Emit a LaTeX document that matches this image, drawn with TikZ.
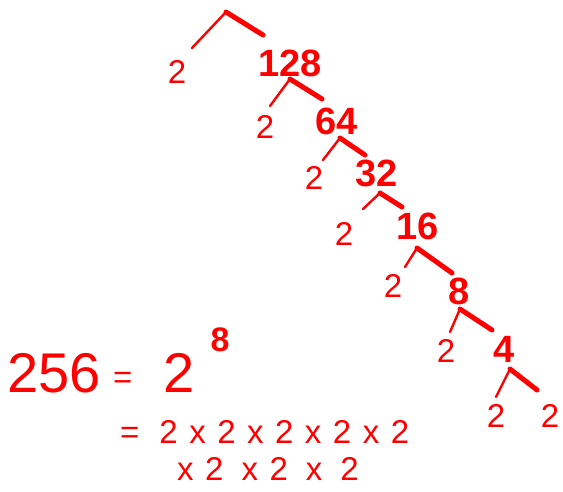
\documentclass[tikz,border=0pt]{standalone}
\usepackage{fontspec}
\setmainfont{Liberation Sans}
\definecolor{ink}{RGB}{255,0,0}
\newcommand{\gp}{\hspace{11.5pt}}
\newcommand{\gq}{\hspace{18pt}}
\tikzset{
  num/.style={text=ink, inner sep=0pt, font=\bfseries\fontsize{38}{38}\selectfont},
  small/.style={text=ink, inner sep=0pt, font=\fontsize{33}{33}\selectfont},
  big/.style={text=ink, inner sep=0pt, font=\fontsize{56}{56}\selectfont},
  eq/.style={text=ink, inner sep=0pt, anchor=base west, font=\fontsize{33}{33}\selectfont},
  thin/.style={draw=ink, line width=2.4pt, line cap=round},
  thick/.style={draw=ink, line width=5pt, line cap=round}
}
\begin{document}
\begin{tikzpicture}[x=1pt,y=-1pt]
\useasboundingbox (0,0) rectangle (563,492);
% apexes
\coordinate (a1) at (226,12);
\coordinate (a2) at (290,79);
\coordinate (a3) at (340,138);
\coordinate (a4) at (380,193);
\coordinate (a5) at (417,248);
\coordinate (a6) at (460,309);
\coordinate (a7) at (510,369);
\coordinate (l1) at (192,48);  \coordinate (r1) at (263,35);
\coordinate (l2) at (270,106); \coordinate (r2) at (322,99);
\coordinate (l3) at (323,160); \coordinate (r3) at (365,155);
\coordinate (l4) at (363,209); \coordinate (r4) at (402,207);
\coordinate (l5) at (405,267); \coordinate (r5) at (452,273);
\coordinate (l6) at (450,332); \coordinate (r6) at (492,330);
\coordinate (l7) at (496,397); \coordinate (r7) at (537,390);
\foreach \i in {1,...,7}{
  \draw[thin] (a\i) -- (l\i);
  \draw[thick] (a\i) -- (r\i);
}
% numbers
\node[small] (t2a) at (177,72) {2};
\node[num] (n128) at (290,63) {128};
\node[small] (t2b) at (265,127) {2};
\node[num] (n64) at (337,121) {64};
\node[small] (t2c) at (314,178) {2};
\node[num] (n32) at (377,173) {32};
\node[small] (t2d) at (344,234) {2};
\node[num] (n16) at (418,226) {16};
\node[small] (t2e) at (393,286) {2};
\node[num] (n8) at (459,291) {8};
\node[small] (t2f) at (446,351) {2};
\node[num] (n4) at (504,349) {4};
\node[small] (t2g) at (496,416) {2};
\node[small] (t2h) at (550,416) {2};
% equation
\node[big, anchor=base west] (e256) at (7,392) {256};
\node[small, anchor=base west] (eq1) at (113,388) {=};
\node[big, anchor=base west] (e2) at (163,392) {2};
\node[text=ink, inner sep=0pt, font=\bfseries\fontsize{34}{34}\selectfont] (e8) at (220,340) {8};
\node[eq] (eq2) at (120,443) {=\hspace{20pt}2\gp x\gp 2\gp x\gp 2\gp x\gp 2\gp x\gp 2};
\node[eq] (eq3) at (177,480) {x\gp 2\gq x\gp 2\gq x\gq 2};
\end{tikzpicture}
\end{document}
